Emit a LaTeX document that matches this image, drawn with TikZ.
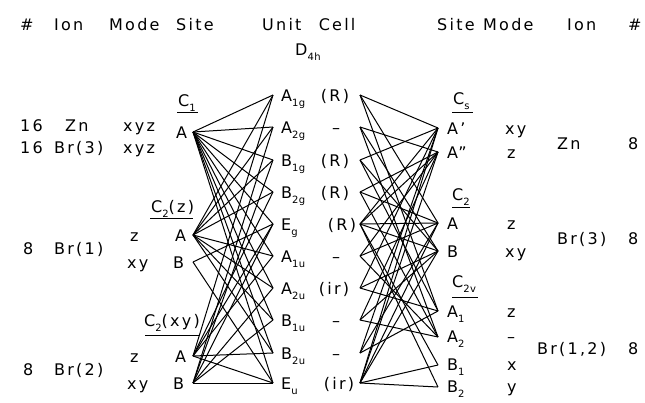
\documentclass[tikz,border=0pt]{standalone}
\usepackage{fontspec}
\setmainfont{DejaVu Sans}[LetterSpace=14]
\newcommand\lsub[1]{\raisebox{-5pt}{\fontsize{10}{10}\selectfont\addfontfeature{LetterSpace=4}#1}}
\begin{document}
\begin{tikzpicture}[x=1pt,y=-1pt,
  every node/.style={inner sep=0pt,font=\fontsize{16}{16}\selectfont},
  lbl/.style={anchor=base west},
  ann/.style={anchor=base},
  cor/.style={line width=1pt},
  uline/.style={line width=1pt}]
\path[use as bounding box] (0,0) rectangle (645,402);
% header
\node[lbl] (hHashL) at (20,30) {\#};
\node[lbl] (hIonL) at (54,30) {Ion};
\node[lbl] (hModeL) at (109,30) {Mode};
\node[lbl] (hSiteL) at (176,30) {Site};
\node[lbl] (hUnit) at (262,30) {Unit\hspace{10pt} Cell};
\node[lbl] (hD) at (295,55) {D\lsub{4h}};
\node[lbl] (hSiteR) at (437,30) {Site};
\node[lbl] (hModeR) at (483,30) {Mode};
\node[lbl] (hIonR) at (567,30) {Ion};
\node[lbl] (hHashR) at (628,30) {\#};
% left side
\node[lbl] (sC1) at (178,106) {C\lsub{1}};
\draw[uline] (177,112) -- (198,112);
\node[lbl] (n16a) at (20,131) {16};
\node[lbl] (iZn) at (65,131) {Zn};
\node[lbl] (mZn) at (123,131) {xyz};
\node[lbl] (sA1) at (176,138) {A};
\node[lbl] (n16b) at (20,153) {16};
\node[lbl] (iBr3) at (54,153) {Br(3)};
\node[lbl] (mBr3) at (123,153) {xyz};
\node[lbl] (sC2z) at (151,212) {C\lsub{2}(z)};
\draw[uline] (150,218) -- (193,218);
\node[lbl] (mz1) at (130,241) {z};
\node[lbl] (sA2) at (175,241) {A};
\node[lbl] (n8a) at (23,254) {8};
\node[lbl] (iBr1) at (54,254) {Br(1)};
\node[lbl] (mxy1) at (127,268) {xy};
\node[lbl] (sB2) at (173,268) {B};
\node[lbl] (sC2xy) at (144,326) {C\lsub{2}(xy)};
\draw[uline] (145,335) -- (200,335);
\node[lbl] (mz2) at (130,362) {z};
\node[lbl] (sA3) at (175,362) {A};
\node[lbl] (n8b) at (23,375) {8};
\node[lbl] (iBr2) at (54,375) {Br(2)};
\node[lbl] (mxy2) at (127,389) {xy};
\node[lbl] (sB3) at (173,389) {B};
\coordinate (jLA1) at (193,132);
\coordinate (jLA2) at (193,235);
\coordinate (jLB2) at (193,262);
\coordinate (jLA3) at (193,356);
\coordinate (jLB3) at (193,383);
% middle
\foreach \i/\y/\lab/\an/\ax in {
  0/95/A\lsub{1g}/(R)/335,
  1/127/A\lsub{2g}/--/336,
  2/160/B\lsub{1g}/(R)/335,
  3/192/B\lsub{2g}/(R)/335,
  4/224/E\lsub{g}/(R)/342,
  5/256/A\lsub{1u}/--/336,
  6/288/A\lsub{2u}/(ir)/334,
  7/320/B\lsub{1u}/--/336,
  8/353/B\lsub{2u}/--/336,
  9/383/E\lsub{u}/(ir)/339}{
  \node[lbl] (irr\i) at (281,\y+6) {\lab};
  \node[ann] (ann\i) at (\ax,\y+6) {\an};
  \coordinate (ml\i) at (273,\y);
  \coordinate (mr\i) at (360,\y);
}
% right side
\node[lbl] (sCs) at (453,104) {C\lsub{s}};
\draw[uline] (452,112) -- (473,112);
\node[lbl] (sAp) at (447,134) {A'};
\node[lbl] (mAp) at (505,134) {xy};
\node[lbl] (iZnR) at (557,149) {Zn};
\node[lbl] (n8c) at (628,149) {8};
\node[lbl] (sApp) at (447,158) {A''};
\node[lbl] (mApp) at (507,158) {z};
\node[lbl] (sC2R) at (452,200) {C\lsub{2}};
\draw[uline] (452,207) -- (470,207);
\node[lbl] (sAR) at (447,229) {A};
\node[lbl] (mAR) at (507,229) {z};
\node[lbl] (iBr3R) at (557,244) {Br(3)};
\node[lbl] (n8d) at (628,244) {8};
\node[lbl] (sBR) at (447,257) {B};
\node[lbl] (mBR) at (505,257) {xy};
\node[lbl] (sC2v) at (452,287) {C\lsub{2v}};
\draw[uline] (452,297) -- (478,297);
\node[lbl] (sA1R) at (447,317) {A\lsub{1}};
\node[lbl] (mA1R) at (507,317) {z};
\node[lbl] (sA2R) at (447,342) {A\lsub{2}};
\node[lbl] (mA2R) at (507,342) {--};
\node[lbl] (iBr12) at (537,354) {Br(1,2)};
\node[lbl] (n8e) at (628,354) {8};
\node[lbl] (sB1R) at (447,370) {B\lsub{1}};
\node[lbl] (mB1R) at (507,370) {x};
\node[lbl] (sB2R) at (447,392) {B\lsub{2}};
\node[lbl] (mB2R) at (507,392) {y};
\coordinate (jRAp) at (438,128);
\coordinate (jRApp) at (438,152);
\coordinate (jRA) at (438,223);
\coordinate (jRB) at (438,251);
\coordinate (jRA1) at (438,311);
\coordinate (jRA2) at (438,337);
\coordinate (jRB1) at (438,365);
\coordinate (jRB2) at (438,387);
% correlation lines, left
\foreach \i in {0,...,9} \draw[cor] (jLA1) -- (ml\i);
\foreach \i in {0,1,2,3,5,6,7,8} \draw[cor] (jLA2) -- (ml\i);
\foreach \i in {4,9} \draw[cor] (jLB2) -- (ml\i);
\foreach \i in {0,3,4,5,8,9} \draw[cor] (jLA3) -- (ml\i);
\foreach \i in {1,2,4,6,7,9} \draw[cor] (jLB3) -- (ml\i);
% correlation lines, right
\foreach \i in {0,2,4,6,8,9} \draw[cor] (mr\i) -- (jRAp);
\foreach \i in {1,3,4,5,7,9} \draw[cor] (mr\i) -- (jRApp);
\foreach \i in {0,3,4,5,8,9} \draw[cor] (mr\i) -- (jRA);
\foreach \i in {1,2,4,6,7,9} \draw[cor] (mr\i) -- (jRB);
\foreach \i in {0,2,6,8} \draw[cor] (mr\i) -- (jRA1);
\foreach \i in {1,3,5,7} \draw[cor] (mr\i) -- (jRA2);
\foreach \i in {4,9} \draw[cor] (mr\i) -- (jRB1);
\foreach \i in {4,9} \draw[cor] (mr\i) -- (jRB2);
\end{tikzpicture}
\end{document}
